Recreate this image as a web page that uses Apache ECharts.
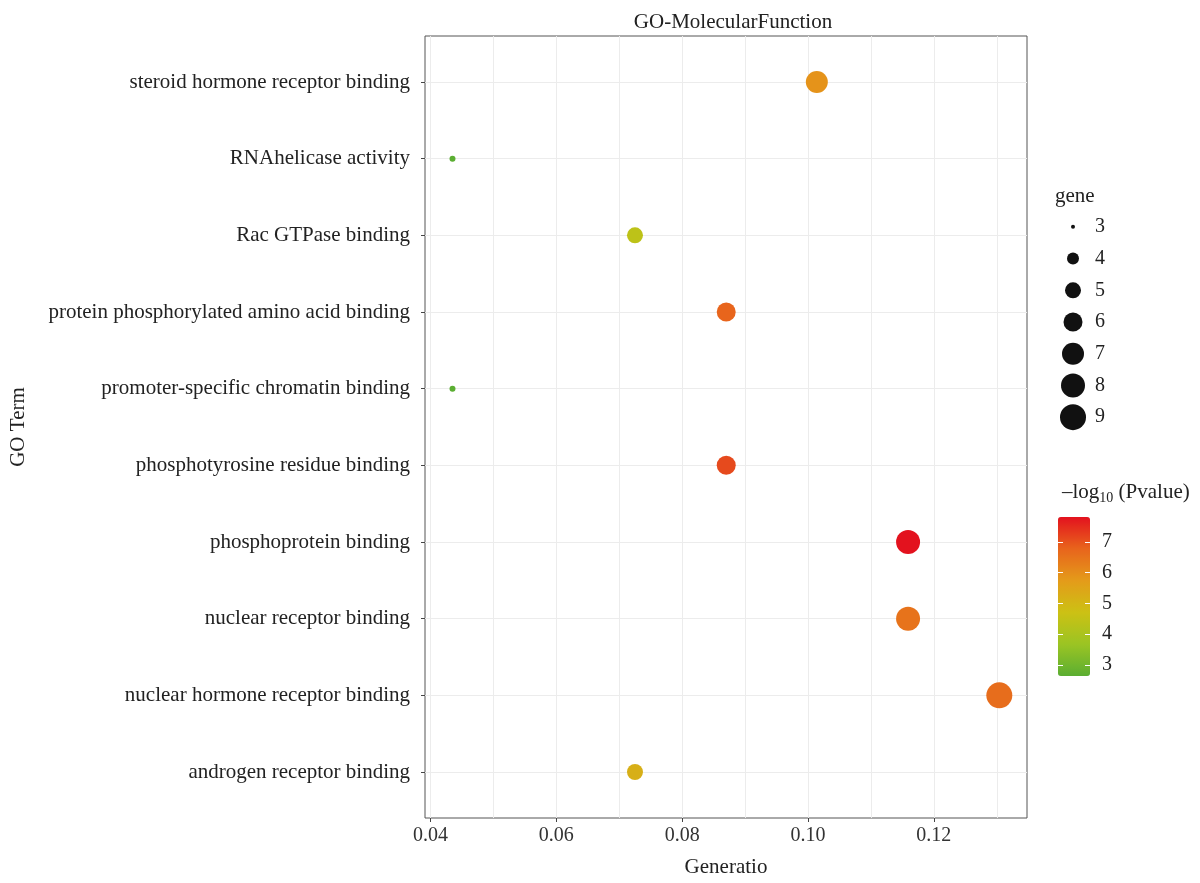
<!DOCTYPE html>
<html>
<head>
<meta charset="utf-8">
<script src="https://cdn.jsdelivr.net/npm/echarts@6/dist/echarts.min.js"></script>
<style>
html,body{margin:0;padding:0;background:#fff;}
#c{width:1200px;height:883px;}
</style>
</head>
<body>
<div id="c"></div>
<script>
// ---- data (bottom to top on the y axis) ----
const categories = [
  'androgen receptor binding',
  'nuclear hormone receptor binding',
  'nuclear receptor binding',
  'phosphoprotein binding',
  'phosphotyrosine residue binding',
  'promoter-specific chromatin binding',
  'protein phosphorylated amino acid binding',
  'Rac GTPase binding',
  'RNAhelicase activity',
  'steroid hormone receptor binding'
];
const geneRatio = [0.0725, 0.1304, 0.1159, 0.1159, 0.0870, 0.0435, 0.0870, 0.0725, 0.0435, 0.1014];
const geneCount = [5, 9, 8, 8, 6, 3, 6, 5, 3, 7];
const negLog10P = [5.2, 6.6, 6.5, 7.81, 7.1, 2.64, 6.75, 4.4, 2.64, 5.9];
const xTicks = [0.04, 0.06, 0.08, 0.10, 0.12];
const xMinorTicks = [0.05, 0.07, 0.09, 0.11, 0.13];
const geneLegend = [3, 4, 5, 6, 7, 8, 9];
const colorTicks = [3, 4, 5, 6, 7];

// ---- styles ----
const FONT = 'Liberation Serif';
const sizeOf = {3: 6, 4: 12, 5: 16, 6: 19, 7: 22, 8: 24, 9: 26};
const xMin = 0.03913, xMax = 0.1348;
const pMin = 2.64, pMax = 7.81;
const catIdx = categories.map((_, i) => i);

const points = categories.map((c, i) => [geneRatio[i], i, negLog10P[i], geneCount[i]]);

const chart = echarts.init(document.getElementById('c'), null, {renderer: 'canvas'});
const gridLineColor = '#ECECEC';

chart.setOption({
  backgroundColor: '#fff',
  animation: false,
  title: {
    text: 'GO-MolecularFunction',
    left: 728, top: 7, textAlign: 'center',
    textStyle: {fontFamily: FONT, fontSize: 21, fontWeight: 'normal', color: '#222'}
  },
  grid: [
    {left: 425, top: 36, right: 173, bottom: 65, show: true, borderColor: '#555', borderWidth: 1,
      backgroundColor: '#fff', outerBoundsMode: 'none', containLabel: false},
    {left: 1060, top: 211, width: 26, height: 222, outerBoundsMode: 'none', containLabel: false},
    {left: 1058, top: 517, width: 32, height: 159, outerBoundsMode: 'none', containLabel: false}
  ],
  xAxis: [
    {
      type: 'value', gridIndex: 0, min: xMin, max: xMax,
      name: 'Generatio', nameLocation: 'middle', nameGap: 39,
      nameTextStyle: {fontFamily: FONT, fontSize: 21, color: '#222'},
      axisLine: {show: false, onZero: false},
      axisTick: {show: true, length: 4, lineStyle: {color: '#444'}, customValues: xTicks},
      axisLabel: {fontFamily: FONT, fontSize: 20, color: '#333', margin: 8, customValues: xTicks,
        formatter: v => v.toFixed(2)},
      splitLine: {show: true, lineStyle: {color: gridLineColor, width: 1}}
    },
    {
      type: 'value', gridIndex: 0, min: xMin, max: xMax, position: 'bottom',
      axisLine: {show: false, onZero: false},
      axisTick: {show: false, customValues: xMinorTicks},
      axisLabel: {show: false, customValues: xMinorTicks},
      splitLine: {show: true, lineStyle: {color: gridLineColor, width: 1}}
    },
    {type: 'value', gridIndex: 1, min: 0, max: 1, show: false, axisLine: {onZero: false}},
    {type: 'value', gridIndex: 2, min: 0, max: 1, show: false, axisLine: {onZero: false}}
  ],
  yAxis: [
    {
      type: 'value', gridIndex: 0, min: -0.6, max: categories.length - 1 + 0.6,
      name: 'GO Term', nameLocation: 'middle', nameGap: 396, nameRotate: 90,
      nameTextStyle: {fontFamily: FONT, fontSize: 21, color: '#222'},
      axisLine: {show: false, onZero: false},
      axisTick: {show: true, length: 4, lineStyle: {color: '#444'}, customValues: catIdx},
      axisLabel: {fontFamily: FONT, fontSize: 21, color: '#222', margin: 15, customValues: catIdx,
        formatter: v => categories[Math.round(v)]},
      splitLine: {show: true, lineStyle: {color: gridLineColor, width: 1}}
    },
    {
      type: 'category', gridIndex: 1, inverse: true, position: 'right',
      data: geneLegend.map(String),
      axisLine: {show: false, onZero: false}, axisTick: {show: false},
      axisLabel: {fontFamily: FONT, fontSize: 20, color: '#222', margin: 9},
      splitLine: {show: false}
    },
    {
      type: 'value', gridIndex: 2, min: pMin, max: pMax, position: 'right', z: 10,
      axisLine: {show: false, onZero: false},
      axisTick: {show: true, inside: true, length: 5, lineStyle: {color: '#fff', width: 1}, customValues: colorTicks},
      axisLabel: {fontFamily: FONT, fontSize: 20, color: '#222', margin: 12, customValues: colorTicks},
      splitLine: {show: false}
    },
    {
      type: 'value', gridIndex: 2, min: pMin, max: pMax, position: 'left', z: 10,
      axisLine: {show: false, onZero: false},
      axisTick: {show: true, inside: true, length: 5, lineStyle: {color: '#fff', width: 1}, customValues: colorTicks},
      axisLabel: {show: false, customValues: colorTicks},
      splitLine: {show: false}
    }
  ],
  visualMap: {
    type: 'continuous', seriesIndex: 0, dimension: 2,
    min: pMin, max: pMax, calculable: false, hoverLink: false,
    left: 1058, top: 517, itemWidth: 32, itemHeight: 159, padding: 0,
    showLabel: false,
    inRange: {color: ['#5BAE32', '#9BC423', '#CCC114', '#E49B1A', '#E8641C', '#E3121E']},
    z: 2
  },
  graphic: [
    {
      type: 'text', left: 1055, top: 186,
      style: {text: 'gene', font: '21px "Liberation Serif"', fill: '#222'}
    },
    {
      type: 'text', left: 1062, top: 482,
      style: {
        text: '–log{sub|10} (Pvalue)',
        font: '21px "Liberation Serif"', fill: '#222',
        rich: {sub: {fontFamily: FONT, fontSize: 14, fill: '#222', verticalAlign: 'bottom', padding: [12, 0, 0, 0]}}
      }
    }
  ],
  series: [
    {
      type: 'scatter', xAxisIndex: 0, yAxisIndex: 0,
      data: points,
      symbolSize: d => sizeOf[d[3]],
      itemStyle: {opacity: 1},
      z: 5
    },
    {
      type: 'scatter', xAxisIndex: 2, yAxisIndex: 1,
      data: geneLegend.map((g, i) => [0.5, String(g), g]),
      symbolSize: d => sizeOf[d[2]] - (d[2] === 3 ? 2 : 0),
      itemStyle: {color: '#111', opacity: 1}
    }
  ]
});
</script>
</body>
</html>
